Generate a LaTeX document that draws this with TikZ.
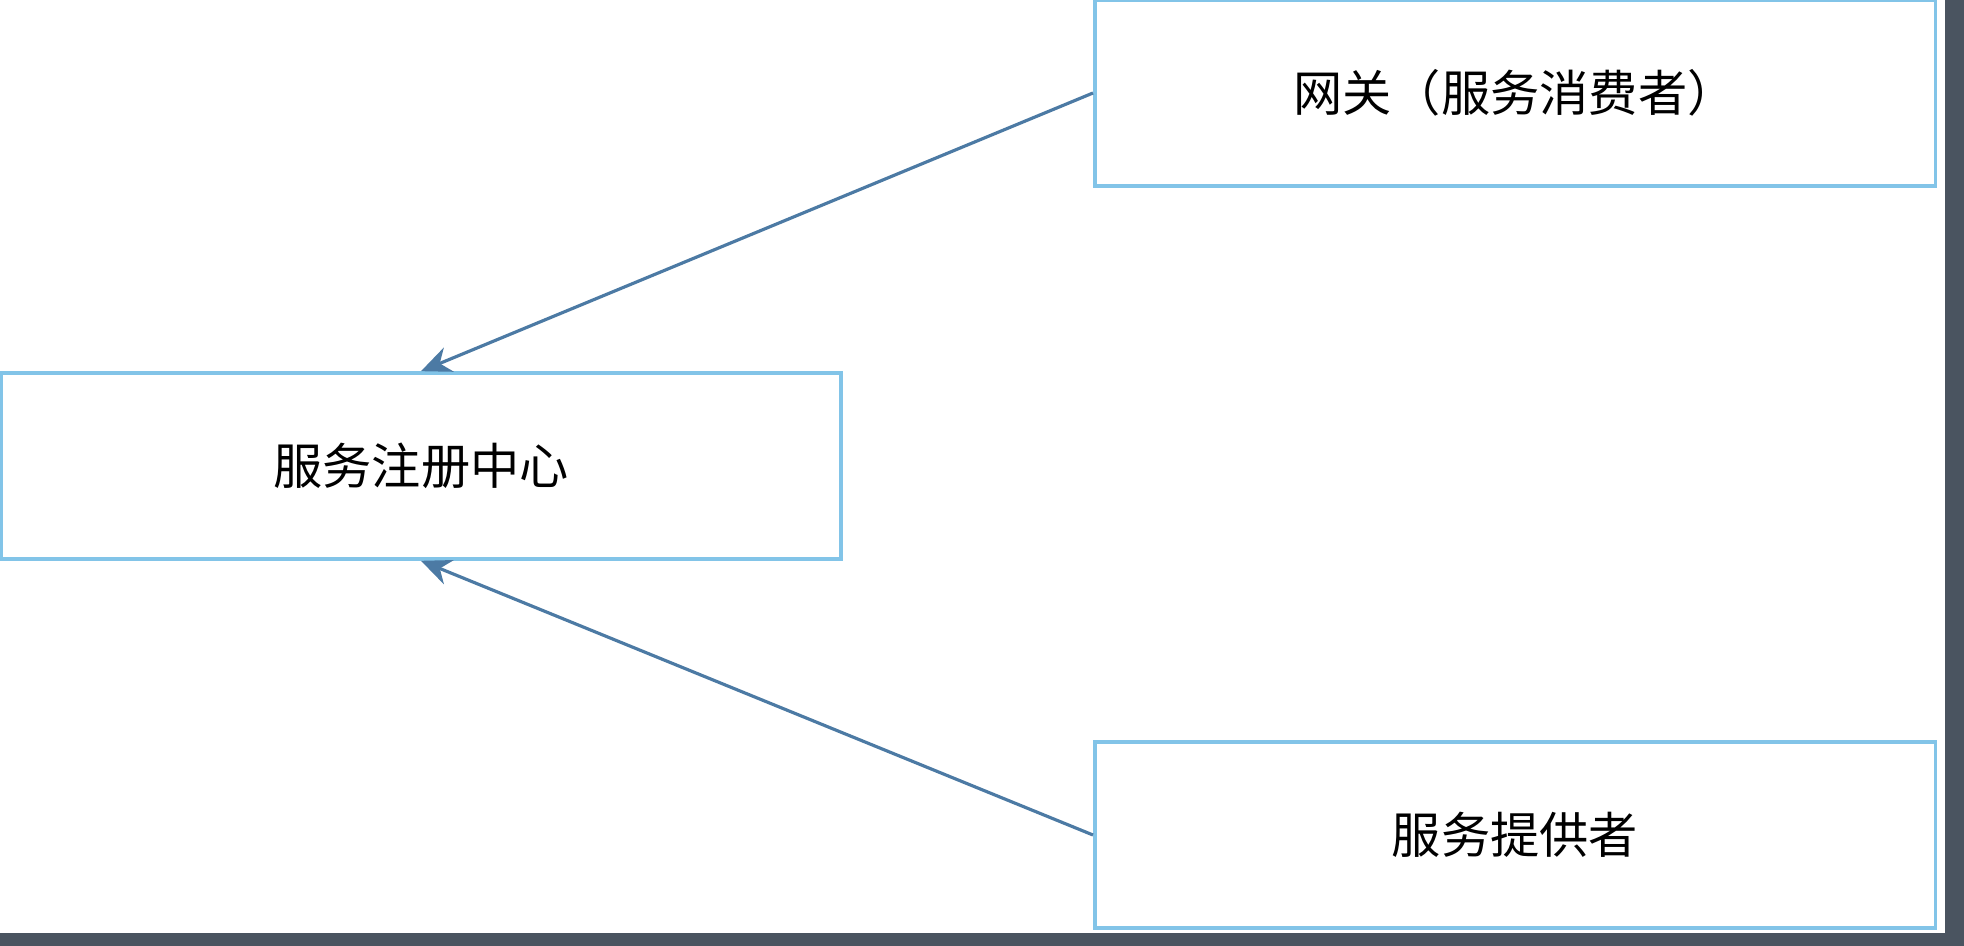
\documentclass[tikz,border=0pt]{standalone}
\usepackage{fontspec}
\newfontfamily\cjk{Noto Sans CJK SC}
\usepackage{tikz}
\usetikzlibrary{arrows.meta,positioning}
\definecolor{boxblue}{RGB}{130, 196, 232}
\definecolor{arrowblue}{RGB}{76, 122, 164}
\definecolor{framegray}{RGB}{74, 84, 96}
\tikzset{
  svcbox/.style={draw=boxblue,line width=1pt,fill=white,align=center,
                 font=\cjk\fontsize{14}{17}\selectfont,
                 minimum width=8.4cm,minimum height=1.86cm,inner sep=0pt},
  arr/.style={-{Stealth[length=3mm,width=2.6mm]},line width=0.9pt,draw=arrowblue,fill=arrowblue},
}
\begin{document}
\begin{tikzpicture}[x=0.01cm,y=-0.01cm]
        \useasboundingbox (0,0) rectangle (1964,946);
        \fill[framegray] (0,0) rectangle (1964,946);
        \fill[white] (0,0) rectangle (1945,933);
        \node[svcbox] (registry) at (421,466) {服务注册中心};
        \node[svcbox] (gateway) at (1515,93) {网关（服务消费者）};
        \node[svcbox] (provider) at (1515,835) {服务提供者};
        \draw[arr] (gateway.west) -- (registry.north);
        \draw[arr] (provider.west) -- (registry.south);
      \end{tikzpicture}
\end{document}
